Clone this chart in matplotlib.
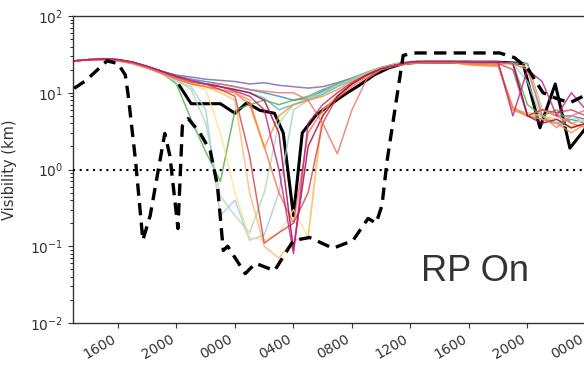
import matplotlib
matplotlib.use("Agg")
import matplotlib.pyplot as plt
import numpy as np

# ---------------- data ----------------
hours = list(range(13, 49))  # hourly grid, 13 = 1300 day 1 ... 48 = 0000 day 3

tick_hours = [16, 20, 24, 28, 32, 36, 40, 44, 48]
tick_labels = ['1600', '2000', '0000', '0400', '0800', '1200', '1600', '2000', '0000']

member_colors = ['#7b5ea7', '#3288bd', '#5ab4ac', '#4daf4a', '#abdda4', '#9ecae1',
                 '#fee08b', '#fdb863', '#f46d43', '#f7902f', '#d53e4f', '#9e0142',
                 '#e8736c', '#c51b7d']

m_purple = [26, 27, 27.5, 27, 25, 22, 19, 17, 16, 15, 14.5, 14, 13, 13.5, 12.5, 12, 11.5, 12,
            13.5, 15.5, 18, 21, 23.5, 25, 26, 26, 26, 25.5, 25.5, 25, 24.5, 24, 6, 5, 5, 4.5]
m_blue = [26, 27, 27.5, 27, 25, 22, 19, 16.5, 15, 14, 13, 12, 11, 10, 9, 8, 8.5, 10.5,
          12.5, 15, 18, 21, 23.5, 25, 26, 26, 26, 25.5, 25, 25, 24, 5, 4.5, 4, 4.5, 4]
m_teal = [26, 27, 27, 27, 25, 22, 19, 16.5, 15, 13, 12, 11, 10, 8.5, 6, 7, 8, 9.5,
          12, 14.5, 17.5, 21, 23.5, 25, 26, 26, 26, 25.5, 25, 25, 24, 24, 5, 4, 3.5, 4]
m_green = [26, 27, 27, 27, 25, 22, 18, 13, 4.5, 1.7, 0.7, 5.9, 7, 8, 7, 8, 9, 11,
           13, 15.5, 18.5, 21.5, 24, 25.5, 26, 26, 26, 25.5, 25, 25, 24, 7, 5, 6, 4, 4.5]
m_lgreen = [26, 27, 27, 26, 24, 21, 18, 15, 11, 4, 0.45, 0.25, 0.15, 0.5, 4, 7, 8.5, 10,
            12.5, 15, 18, 21, 23.5, 25, 26, 26, 26, 25, 25, 24, 6, 5, 5, 4, 3.5, 4]
m_lblue = [26, 27, 27, 26, 24, 21, 17.5, 14, 12, 6, 0.25, 0.4, 0.12, 0.14, 0.5, 6, 8, 10,
           12.5, 15, 18, 21, 23.5, 25, 26, 26, 26, 25, 25, 24, 24, 14, 4.5, 4, 5, 4]
m_yellow = [26, 27, 27, 26, 24, 21, 18, 15, 13, 11, 3, 0.5, 0.13, 0.12, 0.15, 0.3, 0.13, 5,
            10, 14, 17.5, 21, 23.5, 25, 25.5, 25.5, 25.5, 25, 24.5, 24, 23, 22, 6, 5, 4, 4.5]
m_lorange = [26, 27, 27, 26, 24, 21, 18, 15, 13, 12, 10, 8, 0.5, 0.1, 0.07, 0.12, 0.13, 6,
             9, 13, 17, 20.5, 23, 24.5, 25, 25, 25, 24, 23.5, 23, 6, 5.5, 5, 4.5, 3.5, 4]
m_orange = [26, 27, 27, 26, 24, 21, 18, 15, 13, 12, 11, 10, 7, 2, 0.5, 0.2, 3, 6,
            8.5, 12, 16, 20, 22.5, 24, 24.5, 24.5, 24.5, 23.5, 23, 23, 6.5, 5, 6, 5, 4, 3.5]
m_dorange = [26, 27, 27, 26.5, 24.5, 21.5, 18, 15, 13.5, 12, 11, 10, 8, 1.9, 5, 7, 8, 9,
             11, 14, 17.5, 21, 23, 24, 24.5, 24.5, 24.5, 23, 22.5, 22, 6, 5, 4.5, 4, 3, 4]
m_red = [26, 27, 27.5, 27, 25, 22, 19, 16, 14, 13, 11, 9, 1.5, 0.11, 0.15, 0.2, 0.5, 4,
         9, 13, 17, 20.5, 23, 25, 25.5, 25.5, 25.5, 25, 24.5, 24, 20, 5, 6, 5.5, 6, 5]
m_dred = [26, 27, 27.5, 27, 25, 22, 19, 16, 14, 13, 12, 11, 10, 8, 3, 0.09, 2, 5,
          9, 13, 17, 20.5, 23, 25, 25.5, 25.5, 25.5, 25, 25, 25, 24, 5, 4, 4.5, 3.5, 4]
m_salmon = [26, 27, 27, 26.5, 24.5, 21.5, 18, 15.5, 14, 13, 13, 12, 11, 10.5, 10, 10, 8, 4,
            1.6, 6, 15, 20, 23, 24.5, 25, 25, 25, 24.5, 24, 24, 24, 20, 5, 3.5, 5, 6]
m_crimson = [26, 27, 27.5, 27, 25, 22, 19, 16.5, 14.5, 13, 12, 10.5, 9, 6, 1, 0.08, 4, 7,
             10, 13.5, 17, 20.5, 23, 25, 25.5, 25.5, 25.5, 25, 25, 25, 5, 20, 14, 5, 10, 6]

members = [m_purple, m_blue, m_teal, m_green, m_lgreen, m_lblue, m_yellow, m_lorange,
           m_orange, m_dorange, m_red, m_dred, m_salmon, m_crimson]

ctl_hours = [20.2, 21.0, 23.0, 24.0, 24.8, 25.7, 26.7, 27.3, 28.0, 28.6, 29.5, 30.5, 31.5,
             32.5, 33.5, 34.5, 35.5, 36.5, 42.0, 43.7, 44.85, 45.9, 46.9, 48.0]
ctl_vals = [12.4, 7.2, 7.2, 5.4, 7.4, 5.9, 5.4, 3.0, 0.25, 3.0, 5.0, 7.0, 9.5,
            12.5, 17, 21, 24, 25, 25, 24, 3.5, 13, 1.9, 3.5]

obs_hours = [13.0, 13.8, 15.25, 16.0, 16.5, 16.7, 17.2, 17.7, 18.2, 19.2, 19.55, 20.1,
             20.4, 20.8, 21.6, 22.3, 22.8, 23.2, 23.5, 24.7, 25.4, 26.7, 28.0, 29.1,
             30.7, 32.07, 33.1, 33.65, 34.05, 34.4, 35.5, 36.2, 42.1, 43.1, 44.0, 45.06,
             46.0, 46.9, 47.9]
obs_vals = [11.4, 14.4, 26, 24, 17, 9.2, 1.3, 0.12, 0.25, 2.95, 1.5, 0.17,
            3.7, 4.6, 3.0, 1.77, 0.62, 0.088, 0.1, 0.044, 0.06, 0.048, 0.119, 0.13,
            0.094, 0.119, 0.23, 0.20, 0.34, 1.3, 30.6, 33, 33, 28.7, 21, 10,
            8.4, 7.4, 9.2]

threshold = 1.0

# ---------------- figure ----------------
W, H = 584, 367
fig = plt.figure(figsize=(W / 100, H / 100), dpi=100)
ax = fig.add_axes([73 / W, (H - 323) / H, (587 - 73) / W, (323 - 16) / H])

ax.plot(ctl_hours, ctl_vals, color='black', lw=2.2, zorder=2)
for vals, c in zip(members, member_colors):
    ax.plot(hours, vals, color=c, lw=1.1, alpha=0.8, zorder=2)
ax.plot(obs_hours, obs_vals, color='black', lw=2.4, ls=(0, (3.7, 2.2)), zorder=4)
ax.axhline(threshold, color='black', lw=1.5, ls=(0, (1, 2.2)), zorder=3)

ax.set_yscale('log')
ax.set_ylim(1e-2, 1e2)
ax.set_xlim(12.923, 48.07)
ax.set_xticks(tick_hours)
ax.set_xticklabels(tick_labels, rotation=30, ha='right', rotation_mode='default')
ax.tick_params(axis='both', labelsize=10, colors='#333333', labelcolor='#333333')
ax.tick_params(axis='x', pad=3)
for s in ax.spines.values():
    s.set_color('#333333')
    s.set_linewidth(1.0)

ax.set_ylabel('Visibility (km)', fontsize=10.5, color='#333333')
ax.yaxis.set_label_coords((17 - 73) / (587 - 73), (323 - 170) / (323 - 16))

ax.text(0.678, 0.168, 'RP On', transform=ax.transAxes, fontsize=26,
        family='Liberation Sans', color='#333333', ha='left', va='center')

fig.savefig('out.png', dpi=100)
